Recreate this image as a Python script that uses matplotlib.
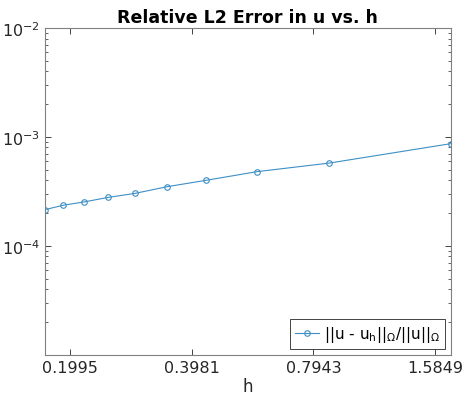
import numpy as np
import matplotlib.pyplot as plt
from matplotlib.ticker import FixedLocator, FixedFormatter, LogLocator, NullFormatter

# mesh sizes h = sqrt(3)/N and relative errors
N = [1, 2, 3, 4, 5, 6, 7, 8, 9, 10]
h = [np.sqrt(3) / n for n in N]
err = [8.67e-4, 5.74e-4, 4.80e-4, 4.00e-4, 3.49e-4, 3.03e-4, 2.78e-4, 2.53e-4, 2.36e-4, 2.15e-4]

xticks = [0.1995, 0.3981, 0.7943, 1.5849]
xlabels = ['0.1995', '0.3981', '0.7943', '1.5849']

blue = '#3d8fc4'
gray = '#262626'

fig = plt.figure(figsize=(4.63, 4.02), dpi=100)
ax = fig.add_axes([0.097, 0.115, 0.877, 0.813])

ax.loglog(h, err, '-o', color=blue, linewidth=0.8, markersize=4,
          markerfacecolor='none', markeredgewidth=0.8,
          label=r'$||$u - u$_\mathrm{h}||_\Omega/||$u$||_\Omega$')

ax.set_xlim(min(h), max(h))
ax.set_ylim(1e-5, 1e-2)

ax.xaxis.set_major_locator(FixedLocator(xticks))
ax.xaxis.set_major_formatter(FixedFormatter(xlabels))
ax.xaxis.set_minor_locator(FixedLocator([]))
ax.yaxis.set_major_locator(FixedLocator([1e-5, 1e-4, 1e-3, 1e-2]))
ax.yaxis.set_major_formatter(FixedFormatter(['', r'$10^{-4}$', r'$10^{-3}$', r'$10^{-2}$']))
ax.yaxis.set_minor_locator(LogLocator(base=10, subs=np.arange(2, 10)))
ax.yaxis.set_minor_formatter(NullFormatter())

ax.tick_params(which='both', direction='in', top=True, right=True, colors=gray,
               labelsize=11.5)
ax.tick_params(which='major', length=4, width=0.6)
ax.tick_params(which='minor', length=2, width=0.5)
for s in ax.spines.values():
    s.set_color('#808080')
    s.set_linewidth(0.8)

ax.set_xlabel('h', fontsize=12, color=gray, labelpad=2)
ax.set_title('Relative L2 Error in u vs. h', fontsize=12.5, fontweight='bold', pad=4)

leg = ax.legend(loc='lower right', fontsize=11, fancybox=False, framealpha=1,
                edgecolor=gray, handlelength=1.6, handletextpad=0.3,
                borderaxespad=0.4, borderpad=0.3)
leg.get_frame().set_linewidth(0.6)

plt.savefig('out.png', dpi=100)
